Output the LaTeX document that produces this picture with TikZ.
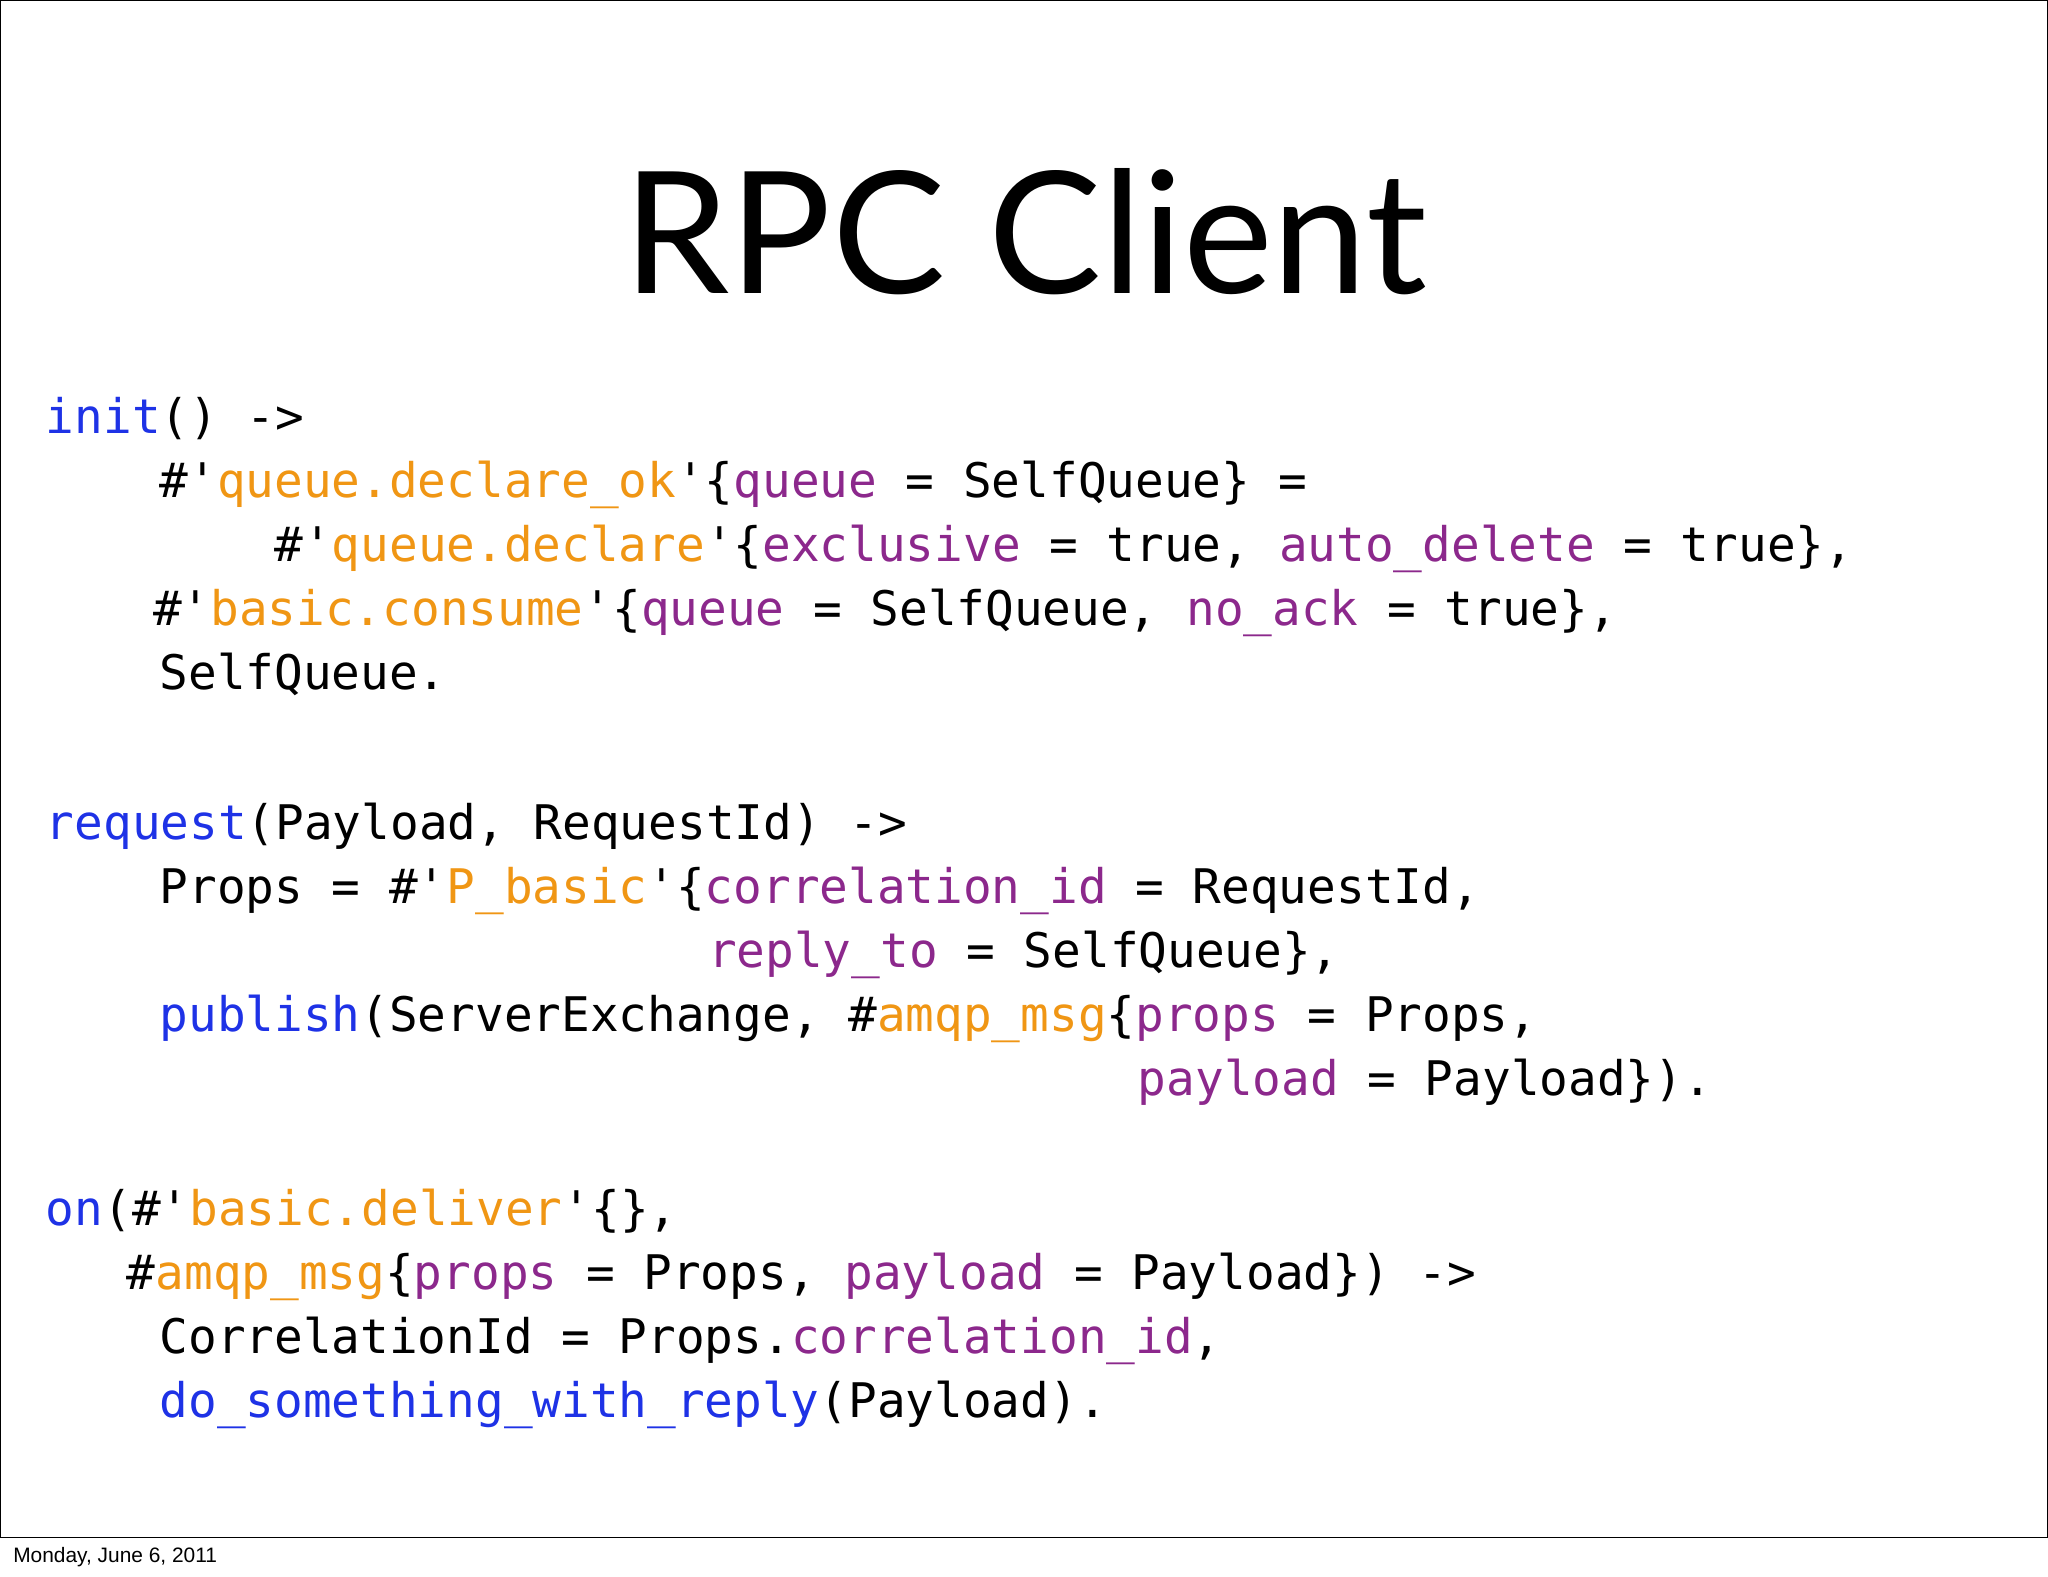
\documentclass[tikz,border=0pt]{standalone}
\usepackage{fontspec}
\setmainfont{Lato}
\setsansfont{Liberation Sans}
\setmonofont{DejaVu Sans Mono}
\definecolor{kwc}{RGB}{30,50,230}
\definecolor{orc}{RGB}{240,150,20}
\definecolor{puc}{RGB}{140,40,140}
\newcommand{\kwb}[1]{\textcolor{kwc}{#1}}
\newcommand{\orn}[1]{\textcolor{orc}{#1}}
\newcommand{\prp}[1]{\textcolor{puc}{#1}}
\tikzset{code/.style={anchor=base west,inner sep=0pt,font=\ttfamily\fontsize{36.5}{44}\selectfont}}
\begin{document}
\begin{tikzpicture}[x=1pt,y=-1pt]
\useasboundingbox (0,0) rectangle (1568,1207);
\fill[white] (0,0) rectangle (1568,1207);
\draw[line width=1pt] (0.5,0.5) rectangle (1567.5,1177);
\node[anchor=base,inner sep=0pt,font=\fontsize{130}{140}\selectfont] (title) at (785,225) {RPC Client};
\node[code] (l1) at (35,332) {\kwb{init}() ->};
\node[code] (l2) at (122,381) {\#'\orn{queue.declare\_ok}'\{\prp{queue} = SelfQueue\} =};
\node[code] (l3) at (210,430) {\#'\orn{queue.declare}'\{\prp{exclusive} = true, \prp{auto\_delete} = true\},};
\node[code] (l4) at (117,479) {\#'\orn{basic.consume}'\{\prp{queue} = SelfQueue, \prp{no\_ack} = true\},};
\node[code] (l5) at (122,528) {SelfQueue.};
\node[code] (l6) at (35,643) {\kwb{request}(Payload, RequestId) ->};
\node[code] (l7) at (122,692) {Props = \#'\orn{P\_basic}'\{\prp{correlation\_id} = RequestId,};
\node[code] (l8) at (542,741) {\prp{reply\_to} = SelfQueue\},};
\node[code] (l9) at (122,790) {\kwb{publish}(ServerExchange, \#\orn{amqp\_msg}\{\prp{props} = Props,};
\node[code] (l10) at (871,839) {\prp{payload} = Payload\}).};
\node[code] (l11) at (35,938) {\kwb{on}(\#'\orn{basic.deliver}'\{\},};
\node[code] (l12) at (97,987) {\#\orn{amqp\_msg}\{\prp{props} = Props, \prp{payload} = Payload\}) ->};
\node[code] (l13) at (122,1036) {CorrelationId = Props.\prp{correlation\_id},};
\node[code] (l14) at (122,1085) {\kwb{do\_something\_with\_reply}(Payload).};
\node[anchor=base west,inner sep=0pt,font=\sffamily\fontsize{16}{18}\selectfont] (foot) at (10,1196) {Monday, June 6, 2011};
\end{tikzpicture}
\end{document}
